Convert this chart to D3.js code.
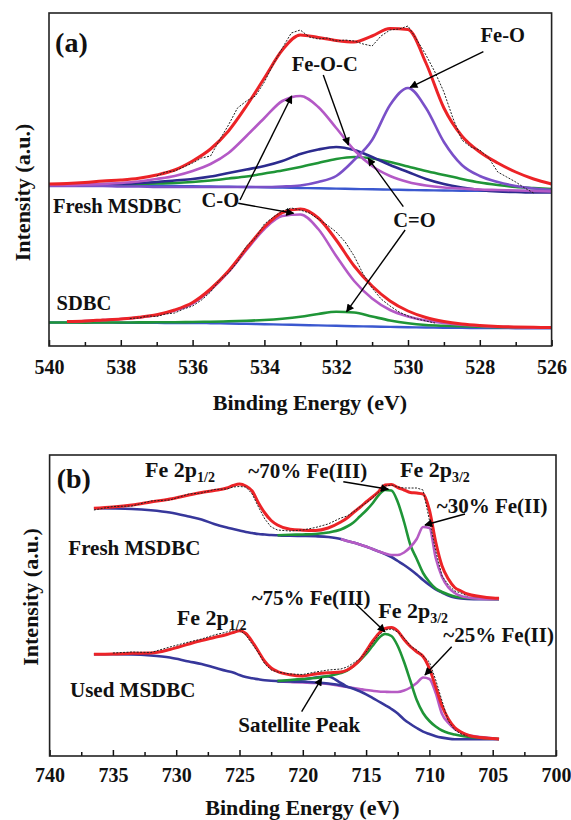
<!DOCTYPE html>
<html><head><meta charset="utf-8">
<script src="https://cdn.jsdelivr.net/npm/d3@7"></script>
<style>
body{margin:0;background:#fff;}
svg text{font-family:"Liberation Serif","LiberationSerif","Tinos","Times New Roman",Times,"DejaVu Serif","Noto Serif",serif;font-weight:bold;fill:#111;}
</style></head><body>
<svg id="chart" width="571" height="820"></svg>
<script>
// ---------- Panel (a): O 1s ----------
const EA = [540,539.5,539,538.5,538,537.5,537,536.5,536,535.5,535,534.5,534,533.5,533,532.5,532,531.5,531,530.5,530,529.5,529,528.5,528,527.5,527,526.5,526];
const freshEnvelope = [162,162.5,163.5,165,166,167.7,171,176,185,197,215,240,268,296,311,308.5,305.5,304,310,317.5,316.5,283,238,210,194,183,174,167,162];
const freshCO = [161,161,161.5,162,163,164.5,167,170,175,182,193,210,228,245,250,239,218,196,180,170,164,160.5,158.5,157.5,156.5,156,155.5,155,154.5];
const freshFeO = [160,160,160,160,159.5,159.5,159,159,159,159,159,159,159,159.5,160.5,164,170,186,206,241,258,238,204,181,170,164,160,157.5,156];
const freshFeOC = [161,161,161.5,162,162,163,164,165.5,167,169.5,173,176.5,180,185,192,196.5,199,196,189,181,174,167,162,158.5,156,154.5,154,153.5,153.5];
const freshCdO = [161,161,161,161.5,161.5,162,162.5,163,164,165.5,167.5,169.5,172.5,175.5,179,183,187,189,187.5,184,179.5,175,171,167,163.5,161,159,158,157];
const freshBaseline = [161,161,161,160.8,160.6,160.4,160.2,160,159.8,159.5,159.2,159,158.7,158.4,158,157.7,157.4,157,156.7,156.4,156,155.7,155.5,155.3,155.2,155.1,155,155,155];
const freshRawE = [537,536.75,536.5,536.25,536,535.75,535.5,535.25,535,534.75,534.5,534.25,534,533.75,533.5,533.25,533,532.75,532.5,532.25,532,531.75,531.5,531.25,531,530.75,530.5,530.25,530,529.75,529.5,529.25,529,528.75,528.5,528.25,528,527.75,527.5,527.25,527,526.75,526.5];
const freshRaw = [170,174,175,179,183,188,190,206,221,238,245,250,264,282,298,313,316,309,307,308,305,306,305,302,300,310,316,317,320,306,291,274,254,228,206,199,196,188,174,169,164,158,153];

const sdbcEnvelope = [24.5,25,26,27,28.7,31.2,36,43.5,57,75,97.5,119,133.5,137,128,106,80,60,45,35,28.5,24.5,22,20.5,19.5,19,18.7,18.5]; // from 539.5
const sdbcCO = [24.5,25,26,27,28.5,31,35.5,42.5,56,74,96,117,130,131.5,117,90,65,47.5,36,29.5,25.5,23,21.2,20,19.2,18.7,18.4,18.2]; // from 539.5
const sdbcCdO = [23.5,23.5,23.4,23.5,23.5,23.6,23.7,23.8,24,24.3,24.7,25.2,26,27.3,29.2,32,34.3,33.5,29.5,25.5,22.7,21,20.2,19.7,19.2,18.8,18.5,18.3,18.2];
const sdbcBaseline = [23.5,23.5,23.4,23.4,23.3,23.2,23.1,23,23,22.8,22.5,22.2,21.8,21.4,21,20.6,20.2,19.8,19.5,19.1,18.8,18.5,18.3,18.1,18,17.9,17.8,17.7,17.7];
const sdbcRawE = [537.75,537.5,537.25,537,536.75,536.5,536.25,536,535.75,535.5,535.25,535,534.75,534.5,534.25,534,533.75,533.5,533.25,533,532.75,532.5,532.25,532,531.75,531.5,531.25,531,530.75,530.5,530.25,530,529.75,529.5,529.25];
const sdbcRaw = [27.5,28,30,29.5,32,33,37,40,46,54,66,73,84,100,108,122,129,135,138,136,133,127,121,114,104,90,72,58,47,40,34,30,27,25,23];

const ticksA = [540,538,536,534,532,530,528,526];
const minorA = [539,537,535,533,531,529,527];

// ---------- Panel (b): Fe 2p ----------
const EB = [736.5,735,733.5,732,730.5,729,728,727,726,725.5,725,724.5,724,723.5,723,722.5,722,721,720,719,718,717,716.5,716,715.5,715,714.5,714,713.5,713,712.5,712,711.5,711,710.5,710,709.5,709,708.5,708,707.5,707,706,705,704.5];
const freshFeEnvelope = [247.7,249,251,254,257,261,263.5,265.5,268,270.5,272,270,265,253,243,235.5,231,226.7,225.8,225.5,228,234,238,243.5,248.5,254,259,264.5,271,271.5,268.5,266,263.5,263,262,246,214,190,177,168.5,165,162,159.5,158,157.7];
const freshFeBaseline = [247.7,247.5,247,245.7,243.5,239.5,236.5,232,228.5,227,225.5,224,223,222,221.5,221,220.7,220.2,220,219.7,219,217,215,213.5,211.5,209.5,207,204.5,202,199,195,191,186.5,181.5,176,171,166.5,163.5,160.5,158.5,157.5,157,156.7,156.7,156.7];
const freshFeIII = [220.8,221.2,221.5,222,223.5,226.5,229.5,233.5,239.5,245.5,252.5,261,266,265.5,254,234,211,197,183,174,167.5,164,161.5,159.5,158.5,158,157.5,157,156.7]; // from 722
const freshFeII = [217,215,213.5,211.5,209.5,207,204.5,202.5,201,201,203.5,209,217,229,228,198,179,168.5,163,160,158.5,157.2,156.8,156.7]; // from 717
const freshFeRaw = [246,249.5,250,255,256,262,263,266.5,267,269,269.5,269,262,249,237,229,226,225,226,228.5,232,238,240,244,249,253,258,264,270,271,269,268,268,268,266,236,205,180,171,165,163,160]; // 736.5..707

const usedEnvelope = [101.7,102,102.7,103,106.5,112,115.5,118.5,121.5,123.5,125.3,122.5,114.5,104.5,94.5,88,84.5,81.2,80,82,83.3,84,86,90,96,105,114.5,122.5,127.5,128.5,125,116.5,109.5,104.3,99.5,87.5,69,50,37,28.5,24,21,18.5,17.5,17];
const usedBaseline = [101.7,101.7,101.5,100.5,98.5,94.5,92,88.5,85,83.5,81,79,77.7,76.7,75.8,75.2,74.9,74.5,74.2,73.5,72.5,70.8,69.2,67.2,64.7,61.7,58.2,54.5,50.8,47,42.5,36.5,32,28,24.4,22,19.8,18.4,17.4,16.8,16.7,16.7,16.7,16.7,16.7];
const usedSatellite = [74.9,75.5,76.5,78.5,79.5,73,69.2]; // 722..716.5
const usedFeIII = [75,76,77,78,80,83,85.5,90,95.5,102,110,118,122,120,110,94,75,56,43,35,29.5,25.5,23,21.5,20.2,19.3,18.2,17.4,17]; // from 722
const usedFeII = [74.5,74,73.5,73,72,70,69,68,67,66,65.2,64.5,64.2,64,64,65.5,68.5,73,78.5,77,63,42,33,27,23.5,21,19,17.7,17]; // from 722
const usedRaw = [103,104,103.5,109,114,117,121,124,126,126,121,112,103,92,86,84,82,81.5,84,86,87,89,93,97,104,113,121,126,127,124,118,110,106,100,94,76,55,35,26,22,20]; // 735..707

const ticksB = [740,735,730,725,720,715,710,705,700];
const minorB = [737.5,732.5,727.5,722.5,717.5,712.5,707.5,702.5];

// annotations: [text, E, intensity]
const labelsA = [
  ["Fe-O",527.98,304.3],["Fe-O-C",533.24,275.3],["C-O",535.75,139],["C=O",530.41,119.3],
  ["Fresh MSDBC",539.89,133],["SDBC",539.79,36]
];
const arrowsA = [
  [527.90,294.3,529.94,258.7],[532.36,271,531.66,201],[530.13,139.3,531.11,187.7],
  [530.08,116,531.71,34.3],[534.68,146,533.24,250],[534.73,142.7,533.19,132.7]
];
const labelsB = [
  ["~70% Fe(III)",724.30,277.7],["~30% Fe(II)",709.42,242.7],["Fresh MSDBC",738.52,201],
  ["~75% Fe(III)",724.04,151],["~25% Fe(II)",708.9,114.3],["Used MSDBC",738.39,58.7],
  ["Satellite Peak",725.1,24.3]
];
const subLabelsB = [
  ["Fe 2p","1/2",732.46,279.3],["Fe 2p","3/2",712.32,278.7],
  ["Fe 2p","1/2",729.96,131],["Fe 2p","3/2",714.04,137.7]
];
const arrowsB = [
  [716.8,274.3,713.24,266.7],[707.19,242,710.35,231],[715.88,152.7,713.51,124.3],
  [708.24,109.3,710.35,81],[720.09,44.3,718.51,77.7]
];

const C = {red:"#ec2327", co:"#b459c6", feo:"#7a50c8", feoc:"#2c2b8e", green:"#1f9537", baseA:"#3b58cf", baseB:"#37379b", mag:"#b65bc4"};
const FONT = "'Liberation Serif','LiberationSerif','Tinos','Times New Roman',Times,'DejaVu Serif','Noto Serif',serif";

const svg = d3.select("#chart");
const defs = svg.append("defs");
defs.append("marker").attr("id","arr").attr("viewBox","0 0 10 10").attr("refX",9).attr("refY",5)
  .attr("markerUnits","userSpaceOnUse").attr("markerWidth",11).attr("markerHeight",8).attr("orient","auto")
  .append("path").attr("d","M0,0L10,5L0,10z").attr("fill","#000");

function txt(sel){ return sel.attr("font-family",FONT).attr("font-weight","bold").attr("fill","#111"); }

function panel(cfg){
  const x = d3.scaleLinear().domain(cfg.xd).range(cfg.xr);
  const y = d3.scaleLinear().domain(cfg.yd).range(cfg.yr);
  const g = svg.append("g");
  const cid = "clip"+cfg.id;
  defs.append("clipPath").attr("id",cid).append("rect")
    .attr("x",cfg.xr[0]).attr("y",cfg.yr[1]).attr("width",cfg.xr[1]-cfg.xr[0]).attr("height",cfg.yr[0]-cfg.yr[1]);
  const plot = g.append("g").attr("clip-path",`url(#${cid})`);
  const line = d3.line().x(d=>x(d[0])).y(d=>y(d[1])).curve(d3.curveMonotoneX);
  const rawLine = d3.line().x(d=>x(d[0])).y(d=>y(d[1]));
  cfg.series.forEach(s=>{
    const pts = s.e.map((e,i)=>[e,s.v[i]]);
    plot.append("path").attr("d", s.raw ? rawLine(pts) : line(pts)).attr("fill","none")
      .attr("stroke",s.c).attr("stroke-width",s.w)
      .attr("stroke-dasharray",s.raw?"2,1.4":null).attr("stroke-linejoin","round");
  });
  // axes
  const gx = g.append("g").attr("transform",`translate(0,${cfg.yr[0]})`)
    .call(d3.axisBottom(x).tickValues(cfg.major).tickSize(-6).tickPadding(cfg.pad).tickFormat(d3.format("d")));
  gx.attr("font-family",FONT).attr("font-size",20);
  gx.select(".domain").remove();
  gx.selectAll("line").attr("stroke","#111").attr("stroke-width",1.5);
  txt(gx.selectAll("text"));
  const gm = g.append("g").attr("transform",`translate(0,${cfg.yr[0]})`)
    .call(d3.axisBottom(x).tickValues(cfg.minor).tickSize(-4).tickFormat(""));
  gm.select(".domain").remove();
  gm.selectAll("line").attr("stroke","#111").attr("stroke-width",1.5);
  g.append("rect").attr("x",cfg.xr[0]).attr("y",cfg.yr[1]).attr("width",cfg.xr[1]-cfg.xr[0]).attr("height",cfg.yr[0]-cfg.yr[1])
    .attr("fill","none").attr("stroke","#222").attr("stroke-width",1.6);
  txt(g.append("text")).attr("x",cfg.titleX).attr("y",cfg.titleY).attr("text-anchor","middle").attr("font-size",22).text("Binding Energy (eV)");
  txt(g.append("text")).attr("transform",`translate(${cfg.yTitleX},${cfg.yTitleY}) rotate(-90)`).attr("text-anchor","middle").attr("font-size",22).text("Intensity (a.u.)");
  txt(g.append("text")).attr("x",x(cfg.tag[1])).attr("y",y(cfg.tag[2])).attr("font-size",28).text(cfg.tag[0]);
  cfg.labels.forEach(l=>{
    txt(g.append("text")).attr("x",x(l[1])).attr("y",y(l[2])).attr("font-size",cfg.fs).text(l[0]);
  });
  (cfg.subLabels||[]).forEach(l=>{
    const t = txt(g.append("text")).attr("x",x(l[2])).attr("y",y(l[3])).attr("font-size",22);
    t.append("tspan").text(l[0]);
    t.append("tspan").attr("dy",5).attr("font-size",14).text(l[1]);
  });
  cfg.arrows.forEach(a=>{
    g.append("line").attr("x1",x(a[0])).attr("y1",y(a[1])).attr("x2",x(a[2])).attr("y2",y(a[3]))
      .attr("stroke","#000").attr("stroke-width",1.4).attr("marker-end","url(#arr)");
  });
}

const EA1 = EA.slice(1);
panel({
  id:"a", xd:[540,526], xr:[49,551.6], yd:[0,333], yr:[346,13],
  major:ticksA, minor:minorA, pad:14, titleX:310, titleY:410, yTitleX:29.5, yTitleY:192.5,
  tag:["(a)",539.83,294], fs:20.5, labels:labelsA, arrows:arrowsA,
  series:[
    {e:EA,v:freshBaseline,c:C.baseA,w:2.4},
    {e:EA,v:freshCdO,c:C.green,w:2.6},
    {e:EA,v:freshFeOC,c:C.feoc,w:2.6},
    {e:EA,v:freshFeO,c:C.feo,w:2.6},
    {e:EA,v:freshCO,c:C.co,w:2.6},
    {e:EA,v:freshEnvelope,c:C.red,w:3},
    {e:freshRawE,v:freshRaw,c:"#222",w:1,raw:true},
    {e:EA,v:sdbcBaseline,c:C.baseA,w:2.4},
    {e:EA,v:sdbcCdO,c:C.green,w:2.6},
    {e:EA1,v:sdbcCO,c:C.co,w:2.6},
    {e:EA1,v:sdbcEnvelope,c:C.red,w:3},
    {e:sdbcRawE,v:sdbcRaw,c:"#222",w:1,raw:true}
  ]
});

panel({
  id:"b", xd:[740,700], xr:[49.6,556], yd:[0,301], yr:[756,455],
  major:ticksB, minor:minorB, pad:12, titleX:302.5, titleY:815, yTitleX:38, yTitleY:597,
  tag:["(b)",739.44,267.7], fs:21, labels:labelsB, subLabels:subLabelsB, arrows:arrowsB,
  series:[
    {e:EB,v:freshFeBaseline,c:C.baseB,w:2.6},
    {e:EB.slice(16),v:freshFeIII,c:C.green,w:2.6},
    {e:EB.slice(21),v:freshFeII,c:C.mag,w:2.6},
    {e:EB,v:freshFeEnvelope,c:C.red,w:3},
    {e:EB.slice(0,42),v:freshFeRaw,c:"#222",w:1,raw:true},
    {e:EB.slice(16),v:usedFeII,c:C.mag,w:2.6},
    {e:EB,v:usedBaseline,c:C.baseB,w:2.6},
    {e:EB.slice(16,23),v:usedSatellite,c:C.baseB,w:2.6},
    {e:EB.slice(16),v:usedFeIII,c:C.green,w:2.6},
    {e:EB,v:usedEnvelope,c:C.red,w:3},
    {e:EB.slice(1,42),v:usedRaw,c:"#222",w:1,raw:true}
  ]
});
</script>
</body></html>
